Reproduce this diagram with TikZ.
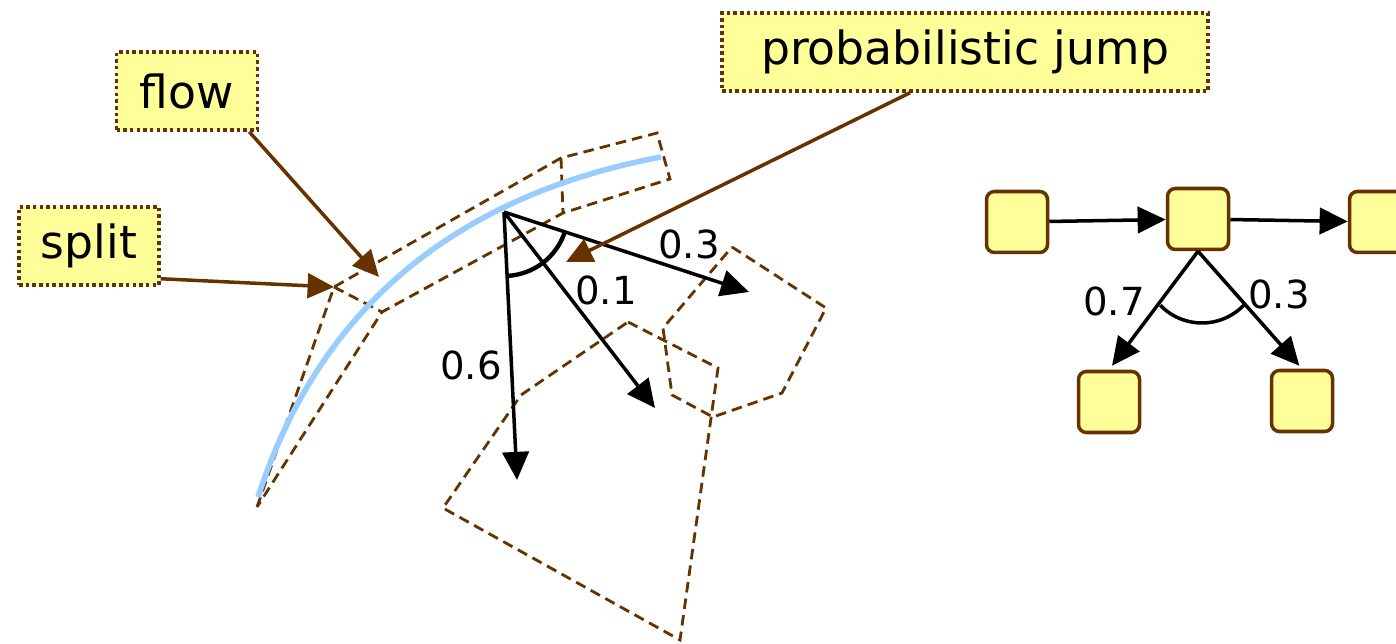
\documentclass[tikz,border=0pt]{standalone}
\usepackage{fontspec}
\setmainfont{DejaVu Sans}
\usetikzlibrary{arrows.meta,calc}
\definecolor{notebrown}{HTML}{663300}
\definecolor{noteyellow}{HTML}{FFFF99}
\definecolor{flowblue}{HTML}{99CCFF}

\begin{document}
\begin{tikzpicture}[x=0.02cm, y=0.02cm,
  callout/.style={draw=notebrown, fill=noteyellow, line width=2pt, dash pattern=on 2pt off 1.8pt, minimum height=1.56cm, font=\fontsize{26}{30}\selectfont},
  pointer/.style={-{Triangle[length=15pt,width=14pt]}, notebrown, line width=2pt},
  tube/.style={notebrown, line width=1.6pt, dash pattern=on 6pt off 3.5pt},
  jump/.style={-{Triangle[length=16pt,width=15pt]}, line width=2pt},
  prob/.style={font=\fontsize{22}{26}\selectfont},
  state/.style={draw=notebrown, fill=noteyellow, line width=2pt, rounded corners=4.5pt, minimum size=1.22cm}]
  \useasboundingbox (0,0) rectangle (1396,643);

  \node[callout, minimum width=2.82cm] (flow) at (187,552) {flow};
  \node[callout, minimum width=2.8cm] (split) at (89,397) {split};
  \node[callout, minimum width=9.72cm] (pj) at (965,591) {probabilistic jump};

  \coordinate (t0) at (257,136);
  \coordinate (sl) at (334,356);
  \coordinate (sr) at (382,331);
  \coordinate (tm) at (561,485);
  \coordinate (tr) at (657,510);
  \coordinate (er) at (670,464);
  \coordinate (bm) at (563,430);
  \draw[tube] (t0) -- (sl) -- (tm) -- (tr) -- (er) -- (bm) -- (sr) -- cycle;
  \draw[tube] (sl) -- (sr);
  \draw[tube] (tm) -- (bm);
  \draw[tube] (628,321) -- (718,275) -- (680,3) -- (443,135) -- (521,248) -- cycle;
  \draw[tube] (732,396) -- (826,335) -- (782,250) -- (713,226) -- (672,248) -- (663,315) -- cycle;

  \draw[flowblue, line width=3.2pt] (258,146) .. controls (319,334) and (454,447) .. (661,486);

  \coordinate (p) at (504,431);
  \coordinate (q6) at (517,163);
  \coordinate (q1) at (655,235);
  \coordinate (q3) at (749,351);
  \draw[jump] (p) -- (q6);
  \draw[jump] (p) -- (q1);
  \draw[jump] (p) -- (q3);
  \draw[line width=2.5pt] ([shift={(-87.2:1.28cm)}]p) arc[start angle=-87.2, end angle=-18.1, radius=1.28cm];
  \node[prob] (l6) at (471,278) {0.6};
  \node[prob] (l1) at (606,353) {0.1};
  \node[prob] (l3) at (689,399) {0.3};

  \coordinate (flowtip) at (379,366);
  \coordinate (pjtip) at (566,381);
  \draw[pointer] ([xshift=-0.2cm]flow.south east) -- (flowtip);
  \draw[pointer] ([yshift=0.16cm]split.south east) -- (sl);
  \draw[pointer] ([xshift=-1.1cm]pj.south) -- (pjtip);

  \node[state] (n1) at (1017,421) {};
  \node[state] (n2) at (1198,424) {};
  \node[state] (n3) at (1380,421) {};
  \node[state] (n4) at (1109,241) {};
  \node[state] (n5) at (1302,242) {};
  \draw[jump] (n1) -- (n2);
  \draw[jump] (n2) -- (n3);
  \draw[jump, shorten >=0.1cm] (n2.south) -- (n4.north);
  \draw[jump, shorten >=0.08cm] (n2.south) -- (n5.north);
  \coordinate (fork) at (1202,378);
  \draw[line width=2pt] ([shift={(224:1.16cm)}]fork) arc[start angle=224, end angle=316, radius=1.16cm];
  \node[prob] (l7) at (1114,342) {0.7};
  \node[prob] (r3) at (1279,349) {0.3};
\end{tikzpicture}
\end{document}
